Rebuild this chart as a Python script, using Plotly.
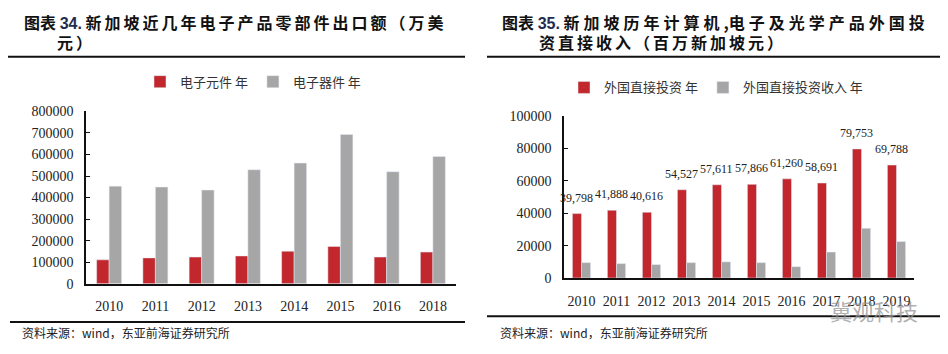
import plotly.graph_objects as go

W, H = 948, 354

# ---- Data: left chart (万美元)
years_left = ["2010", "2011", "2012", "2013", "2014", "2015", "2016", "2018"]
components = [111000, 120000, 124000, 129000, 151000, 173000, 124000, 147000]
devices = [453000, 449000, 435000, 529000, 560000, 693000, 520000, 591000]

# ---- Data: right chart (百万新加坡元)
years_right = ["2010", "2011", "2012", "2013", "2014", "2015", "2016", "2017", "2018", "2019"]
fdi = [39798, 41888, 40616, 54527, 57611, 57866, 61260, 58691, 79753, 69788]
fdi_income = [9500, 8900, 8300, 9500, 10000, 9500, 7000, 16000, 30700, 22500]

RED = "#C1272D"
GRAY = "#A6A6A6"
SERIF = "Liberation Serif, Times New Roman, serif"
CJK = "Noto Sans CJK SC"
BARW = 0.26


def px_x(p):
    return p / W


def px_y(p):
    return 1 - p / H


fig = go.Figure()

fig.add_trace(go.Bar(x=years_left, y=components, name="电子元件 年", marker_color=RED,
                     xaxis="x", yaxis="y", legend="legend"))
fig.add_trace(go.Bar(x=years_left, y=devices, name="电子器件 年", marker_color=GRAY,
                     xaxis="x", yaxis="y", legend="legend"))

fig.add_trace(go.Bar(x=years_right, y=fdi, name="外国直接投资 年", marker_color=RED,
                     xaxis="x2", yaxis="y2", legend="legend2", offset=-BARW, width=BARW))
fig.add_trace(go.Bar(x=years_right, y=fdi_income, name="外国直接投资收入 年", marker_color=GRAY,
                     xaxis="x2", yaxis="y2", legend="legend2", offset=0.0, width=BARW))

axis_common = dict(showgrid=False, zeroline=False, showline=True, linecolor="#111", linewidth=1.5,
                   tickfont=dict(family=SERIF, size=14, color="#222"), fixedrange=True)

fig.update_layout(
    width=W, height=H, margin=dict(l=0, r=0, t=0, b=0),
    paper_bgcolor="white", plot_bgcolor="white",
    barmode="group", bargap=0.46, bargroupgap=0,
    xaxis=dict(domain=[px_x(86), px_x(456)], anchor="y", ticks="", type="category",
               ticklabelstandoff=9, **axis_common),
    yaxis=dict(domain=[px_y(289), px_y(109)], anchor="x", range=[0, 800000],
               tickvals=[0, 100000, 200000, 300000, 400000, 500000, 600000, 700000, 800000],
               ticktext=["0", "100000", "200000", "300000", "400000", "500000", "600000", "700000", "800000"],
               ticks="inside", ticklen=4, tickcolor="#111", ticklabelstandoff=8, **axis_common),
    xaxis2=dict(domain=[px_x(564), px_x(914)], anchor="y2", ticks="", type="category",
                range=[-0.5, len(years_right) - 0.5], ticklabelstandoff=9, **axis_common),
    yaxis2=dict(domain=[px_y(283), px_y(114)], anchor="x2", range=[0, 100000],
                tickvals=[0, 20000, 40000, 60000, 80000, 100000],
                ticktext=["0", "20000", "40000", "60000", "80000", "100000"],
                ticks="inside", ticklen=4, tickcolor="#111", ticklabelstandoff=8, **axis_common),
    legend=dict(orientation="h", x=px_x(140), y=px_y(78), xanchor="left", yanchor="middle",
                font=dict(family=CJK, size=13, color="#333"), itemwidth=30, tracegroupgap=0,
                bgcolor="rgba(0,0,0,0)"),
    legend2=dict(orientation="h", x=px_x(564), y=px_y(84), xanchor="left", yanchor="middle",
                 font=dict(family=CJK, size=13, color="#333"), itemwidth=30,
                 bgcolor="rgba(0,0,0,0)"),
    showlegend=True,
)

TITLE_FONT = dict(family=CJK, size=16, color="#111")
LS = '<span style="letter-spacing:3px">'
LS2 = '<span style="letter-spacing:4px">'
NUM = '<span style="font-family:Liberation Sans, Arial;color:#1F2D50">'

ann = []
ann.append(dict(text=f"<b>图表 {NUM}34.</span> {LS}新加坡近几年电子产品零部件出口额（万美</span></b>",
                x=px_x(22), y=px_y(16), xanchor="left", yanchor="middle"))
ann.append(dict(text=f"<b>{LS}元）</span></b>", x=px_x(55), y=px_y(37), xanchor="left", yanchor="middle"))
ann.append(dict(text=f"<b>图表 {NUM}35.</span> {LS2}新加坡历年计算机</span>,{LS2}电子及光学产品外国投</span></b>",
                x=px_x(500), y=px_y(16), xanchor="left", yanchor="middle"))
ann.append(dict(text=f"<b>{LS}资直接收入（百万新加坡元）</span></b>", x=px_x(537), y=px_y(37),
                xanchor="left", yanchor="middle"))
annotations = []
for a in ann:
    a.update(xref="paper", yref="paper", showarrow=False, font=TITLE_FONT)
    annotations.append(a)

# data labels above the red bars of the right chart
for i, v in enumerate(fdi):
    annotations.append(dict(text=f"{v:,}", x=i - BARW / 2, y=v, xref="x2", yref="y2", xanchor="center",
                            yanchor="middle", yshift=16, showarrow=False,
                            font=dict(family=SERIF, size=12, color="#222")))

src_font = dict(family=CJK, size=12, color="#222")
annotations.append(dict(text="资料来源：wind，东亚前海证券研究所", x=px_x(20), y=px_y(340),
                        xref="paper", yref="paper", xanchor="left", yanchor="middle",
                        showarrow=False, font=src_font))
annotations.append(dict(text="资料来源：wind，东亚前海证券研究所", x=px_x(498), y=px_y(340),
                        xref="paper", yref="paper", xanchor="left", yanchor="middle",
                        showarrow=False, font=src_font))
annotations.append(dict(text="冀观科技", x=px_x(874), y=px_y(316), xref="paper", yref="paper",
                        xanchor="center", yanchor="middle", showarrow=False,
                        font=dict(family=CJK, size=22, color="rgba(150,150,150,0.75)")))
fig.update_layout(annotations=annotations)

shapes = [
    dict(type="line", xref="paper", yref="paper", x0=px_x(8), x1=px_x(465), y0=px_y(52), y1=px_y(52),
         line=dict(color="#111", width=2)),
    dict(type="line", xref="paper", yref="paper", x0=px_x(10), x1=px_x(465), y0=px_y(329), y1=px_y(329),
         line=dict(color="#111", width=2)),
    dict(type="line", xref="paper", yref="paper", x0=px_x(487), x1=px_x(940), y0=px_y(52), y1=px_y(52),
         line=dict(color="#111", width=2)),
    dict(type="line", xref="paper", yref="paper", x0=px_x(487), x1=px_x(940), y0=px_y(323), y1=px_y(323),
         line=dict(color="#111", width=2)),
]
fig.update_layout(shapes=shapes)

fig.write_html("out.html")
